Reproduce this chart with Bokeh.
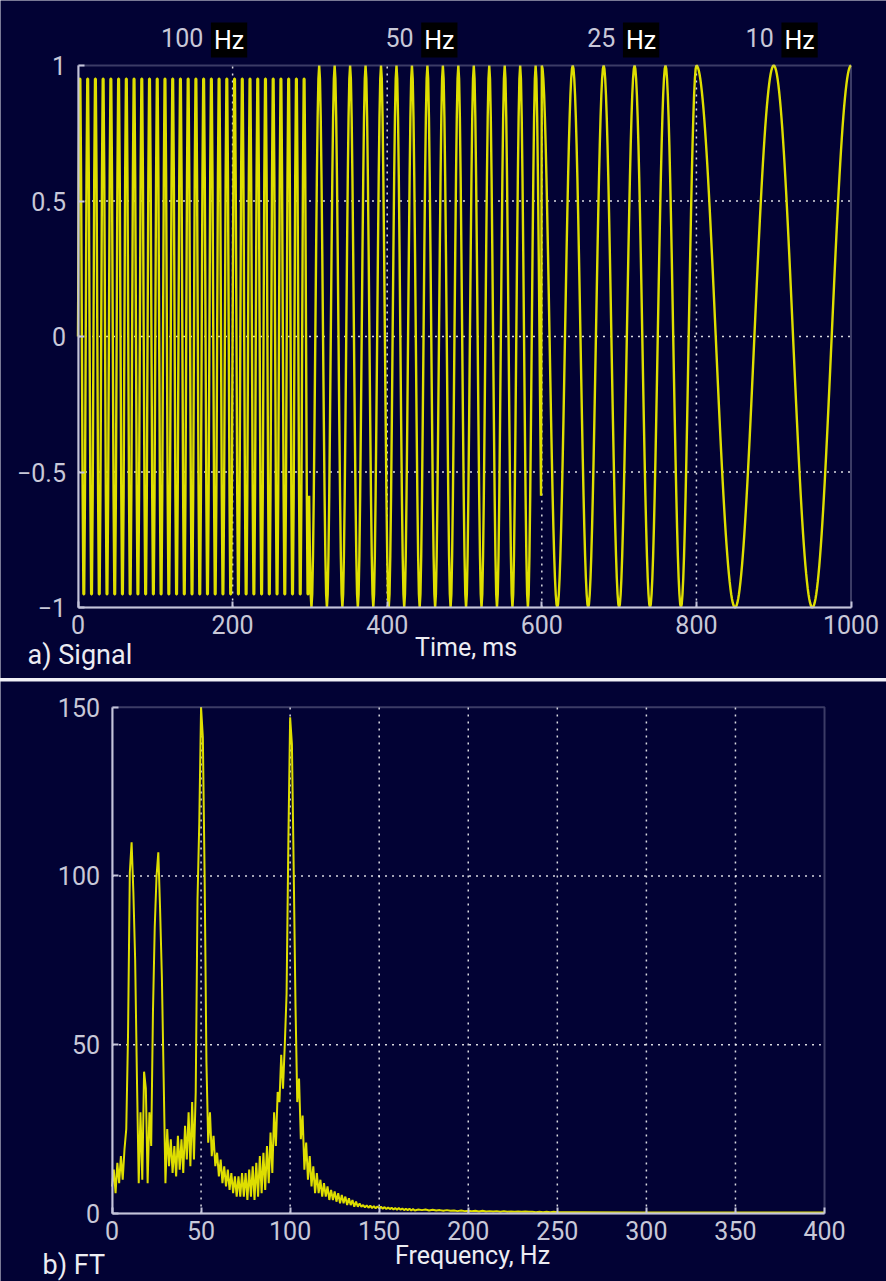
import numpy as np
from bokeh.plotting import figure
from bokeh.layouts import column
from bokeh.models import FixedTicker, Label, BoxAnnotation
from bokeh.embed import file_html
from bokeh.resources import INLINE

# ---------------- data ----------------
# a) Signal: piecewise sinusoid segments (read from the labels / picture)
seg_start_ms = [0, 300, 600, 800]
seg_end_ms = [300, 600, 800, 1000]
seg_freq_hz = [100, 50, 25, 10]
seg_peak_ms = [2.5, 312, 640, 900]       # time of a crest in each segment
seg_label_text = ["100", "50", "25", "10"]
seg_label_ms = [162, 434, 695, 900]      # right edge of number label
sample_step_ms = 1.0

# b) FT magnitude (1 Hz bins up to 170 Hz, then coarser)
ft_mag_low = [8, 13, 6, 15, 9, 17, 10, 19, 25, 53,
              101, 110, 95, 75, 40, 9, 30, 10, 42, 37,
              9, 30, 20, 60, 85, 100, 107, 90, 70, 40,
              9, 25, 14, 22, 12, 20, 11, 23, 13, 22,
              12, 26, 16, 30, 14, 33, 16, 36, 93, 116,
              150, 141, 100, 45, 21, 30, 17, 23, 14, 18,
              11, 16, 9, 14, 8, 13, 7, 12, 6, 11,
              5, 11, 5, 12, 5, 12, 4, 13, 5, 14,
              4, 15, 5, 17, 6, 18, 7, 20, 9, 24,
              12, 30, 20, 36, 33, 47, 37, 50, 65, 110,
              147, 139, 102, 62, 33, 40, 22, 29, 13, 21,
              10, 17, 8, 14, 6, 12, 6, 10, 5, 9,
              5, 8, 4, 7, 4, 6.5, 3.5, 6, 3, 5.5,
              3, 5, 2.5, 4.5, 2.5, 4, 2, 3.5, 2, 3,
              2]
ft_mag_mid = [2.5, 1.8, 2.4, 1.7, 2.3, 1.6, 2.2, 1.5, 2.1, 1.5,
              2.0, 1.4, 1.9, 1.3, 1.8, 1.3, 1.7, 1.2, 1.6, 1.1,
              1.6, 1.1, 1.5, 1.0, 1.4, 1.0, 1.4, 0.9, 1.3, 0.9]
ft_mag_tail = [1.2, 1.0, 1.2, 0.9, 1.1, 0.9, 1.0, 0.8, 1.0, 0.8,
               0.9, 0.7, 0.9, 0.7, 0.8, 0.7, 0.8, 0.6, 0.8, 0.6,
               0.7, 0.6, 0.7, 0.5, 0.7, 0.5, 0.6, 0.5, 0.6, 0.5,
               0.6, 0.5, 0.5, 0.4, 0.5, 0.4, 0.5, 0.4, 0.5, 0.4,
               0.4, 0.4, 0.4, 0.4, 0.4]
ft_mag_end = [0.3, 0.3, 0.3]
ft_freq_low = list(range(0, 141))
ft_freq_mid = list(range(141, 171))
ft_freq_tail = list(range(172, 262, 2))
ft_freq_end = [300, 350, 400]

time_ticks = [0, 200, 400, 600, 800, 1000]
amp_ticks = [-1, -0.5, 0, 0.5, 1]
freq_ticks = [0, 50, 100, 150, 200, 250, 300, 350, 400]
mag_ticks = [0, 50, 100, 150]

# ---------------- style ----------------
BG = "#020234"
BOX = "#c4c4da"
TICK_TXT = "#c8c8d8"
WHITE = "#ececf2"
YEL = "#dede00"
FONT = "Roboto"

# build signal from segments
t_all, s_all = [], []
for s0, s1, f, pk in zip(seg_start_ms, seg_end_ms, seg_freq_hz, seg_peak_ms):
    last = s1 == seg_end_ms[-1]
    tt = np.arange(s0, s1 + (sample_step_ms if last else 0), sample_step_ms)
    t_all.append(tt)
    s_all.append(np.cos(2 * np.pi * f * (tt - pk) / 1000.0))
t_sig = np.concatenate(t_all)
y_sig = np.concatenate(s_all)

ft_freq = ft_freq_low + ft_freq_mid + ft_freq_tail + ft_freq_end
ft_mag = ft_mag_low + ft_mag_mid + ft_mag_tail + ft_mag_end


def style(p, xt, yt, yover=None):
    """Axes drawn at the box edges (fixed_location); frame = whole canvas."""
    p.background_fill_color = BG
    p.border_fill_color = BG
    p.outline_line_color = None
    x0, x1, y0, y1 = xt[0], xt[-1], yt[0], yt[-1]
    p.xaxis.fixed_location = y0
    p.xaxis.bounds = (x0, x1)
    p.yaxis.fixed_location = x0
    p.yaxis.bounds = (y0, y1)
    for ax in p.xaxis + p.yaxis:
        ax.axis_line_color = BOX
        ax.axis_line_width = 2
        ax.major_tick_in = 6
        ax.major_tick_out = 0
        ax.major_tick_line_color = BOX
        ax.major_tick_line_width = 2
        ax.minor_tick_line_color = None
        ax.major_label_text_color = TICK_TXT
        ax.major_label_text_font = FONT
        ax.major_label_text_font_size = "25px"
    p.xaxis.ticker = FixedTicker(ticks=xt)
    p.yaxis.ticker = FixedTicker(ticks=yt)
    if yover:
        p.yaxis.major_label_overrides = yover
    p.xaxis.major_label_standoff = 8
    p.yaxis.major_label_standoff = 12
    p.grid.visible = False
    # dotted grid inside the box
    gx = xt[1:-1]
    p.segment(x0=gx, y0=[y0] * len(gx), x1=gx, y1=[y1] * len(gx),
              line_color="white", line_alpha=0.85, line_dash="2 5", line_width=1.5)
    gy = yt[1:-1]
    p.segment(x0=[x0] * len(gy), y0=gy, x1=[x1] * len(gy), y1=gy,
              line_color="white", line_alpha=0.85, line_dash="2 5", line_width=1.5)
    p.add_layout(BoxAnnotation(left=x0, right=x1, bottom=y0, top=y1, fill_alpha=0,
                               line_color=BOX, line_width=2))


def txt(p, text, x, y, align, color, size, bg=None):
    kw = dict(x=x, y=y, text=text, text_align=align, text_baseline="middle",
              text_color=color, text_font=FONT, text_font_size=size)
    if bg:
        kw.update(background_fill_color=bg, padding=3)
    p.add_layout(Label(**kw))


# ---------------- top: signal ----------------
# box: x 77.5..850.5 px, y 65..607 px on a 886 x 678 canvas
p1 = figure(width=886, height=678, output_backend="svg", toolbar_location=None,
            x_range=(-100.26, 1045.9), y_range=(-1.262, 1.2399), min_border=0)
style(p1, time_ticks, amp_ticks,
      {-1: "\u22121", -0.5: "\u22120.5", 0: "0", 0.5: "0.5", 1: "1"})
p1.line(t_sig, y_sig, line_color=YEL, line_width=2.4)

for t_, xm in zip(seg_label_text, seg_label_ms):
    txt(p1, t_, xm, 1.1033, "right", TICK_TXT, "25px")
    txt(p1, "Hz", xm + 10, 1.094, "left", "white", "25px", bg="black")

txt(p1, "Time, ms", 502, -1.1476, "center", WHITE, "25px")
txt(p1, "a) Signal", -65.3, -1.177, "left", WHITE, "27px")

# ---------------- bottom: FT ----------------
# box: x 111.5..824 px, y 25.7..532 px on a 886 x 600 canvas
p2 = figure(width=886, height=600, output_backend="svg", toolbar_location=None,
            x_range=(-62.6, 434.8), y_range=(-20.15, 157.61), min_border=0)
style(p2, freq_ticks, mag_ticks)
p2.line(ft_freq, ft_mag, line_color=YEL, line_width=2)

txt(p2, "Frequency, Hz", 202.4, -12.44, "center", WHITE, "25px")
txt(p2, "b) FT", -39.0, -15.4, "left", WHITE, "27px")

layout = column(p1, p2, spacing=3)
layout.styles = {"background-color": "#f0f0f6"}

open("out.html", "w").write(file_html(layout, INLINE))
